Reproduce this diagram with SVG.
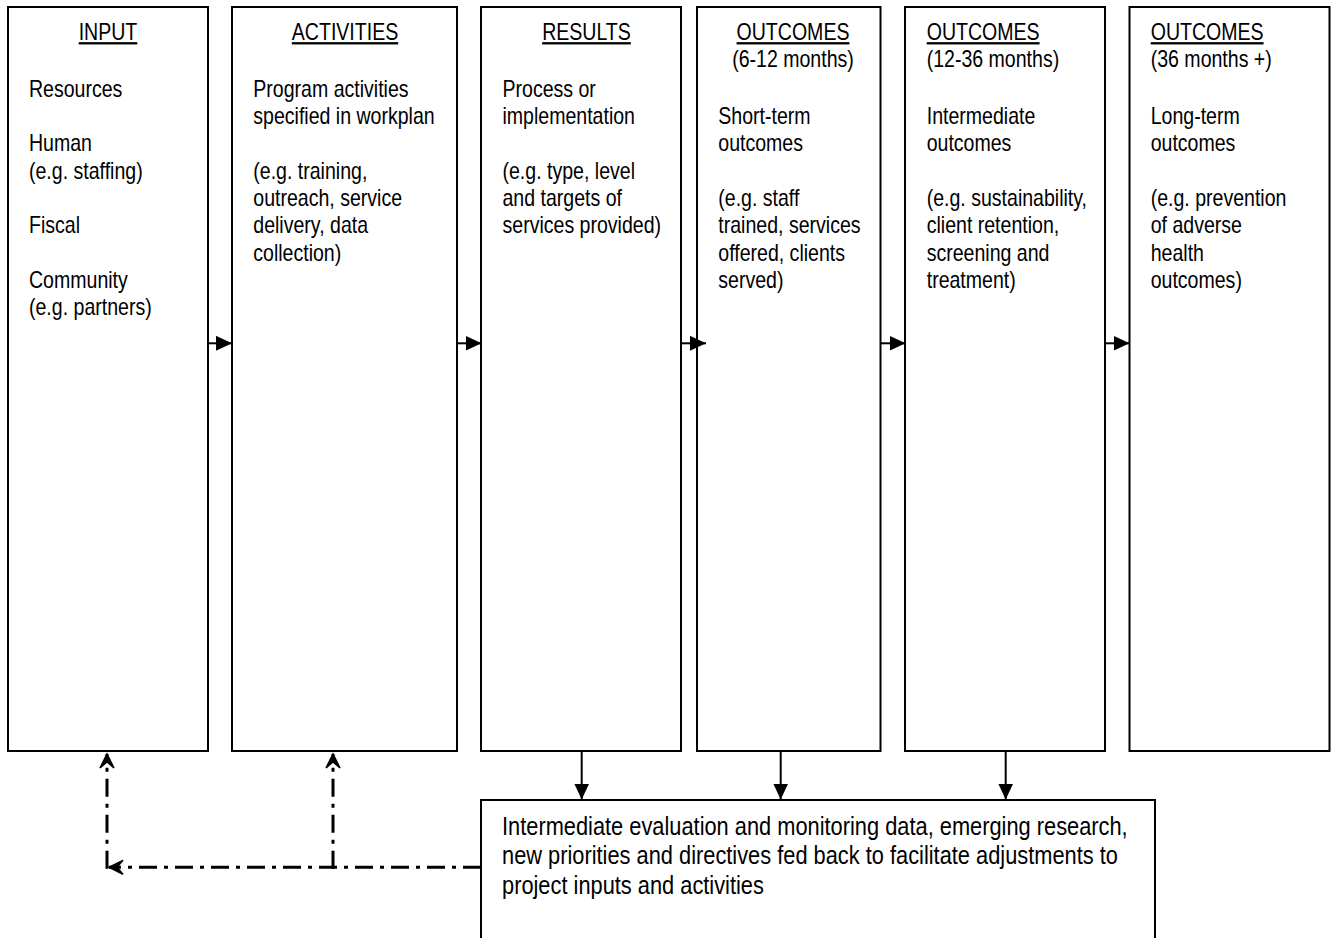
<svg xmlns="http://www.w3.org/2000/svg" width="1333" height="938" viewBox="0 0 1333 938">
<style>
.box{fill:#fff;stroke:#000;stroke-width:2}
.t{font-family:"Liberation Sans",Arial,sans-serif;font-size:23px;fill:#000}
.b{font-family:"Liberation Sans",Arial,sans-serif;font-size:25px;fill:#000}
.u{text-decoration:underline}
.solid{stroke:#000;stroke-width:2;fill:none}
.dash{stroke:#000;stroke-width:3;fill:none;stroke-dasharray:18 7 4 7}
</style>
<defs>
<marker id="tri" markerUnits="userSpaceOnUse" viewBox="0 0 16 15" refX="16" refY="7.5" markerWidth="16" markerHeight="15" orient="auto">
<path d="M0,0 L16,7.5 L0,15 z" fill="#000"/>
</marker>
<marker id="stealth" markerUnits="userSpaceOnUse" viewBox="-2 -2 18 18" refX="14" refY="7" markerWidth="18" markerHeight="18" orient="auto">
<path d="M0,0 L14,7 L0,14 L6,7 z" fill="#000" stroke="#000" stroke-width="1.5" stroke-linejoin="miter"/>
</marker>
</defs>
<rect width="1333" height="938" fill="#fff"/>

<g id="input">
<rect class="box" x="8" y="7" width="200" height="744"/>
<text class="t" transform="translate(108,0) scale(0.85,1)" text-anchor="middle"><tspan class="u" x="0" y="40">INPUT</tspan></text>
<text class="t" transform="translate(29,0) scale(0.85,1)">
<tspan x="0" y="96.7">Resources</tspan>
<tspan x="0" y="151.3">Human</tspan>
<tspan x="0" y="178.6">(e.g. staffing)</tspan>
<tspan x="0" y="233.3">Fiscal</tspan>
<tspan x="0" y="288">Community</tspan>
<tspan x="0" y="315.3">(e.g. partners)</tspan>
</text>
</g>

<g id="activities">
<rect class="box" x="232" y="7" width="225" height="744"/>
<text class="t" transform="translate(345,0) scale(0.85,1)" text-anchor="middle"><tspan class="u" x="0" y="40">ACTIVITIES</tspan></text>
<text class="t" transform="translate(253.3,0) scale(0.85,1)">
<tspan x="0" y="96.7">Program activities</tspan>
<tspan x="0" y="124">specified in workplan</tspan>
<tspan x="0" y="178.6">(e.g. training,</tspan>
<tspan x="0" y="206">outreach, service</tspan>
<tspan x="0" y="233.3">delivery, data</tspan>
<tspan x="0" y="260.6">collection)</tspan>
</text>
</g>

<g id="results">
<rect class="box" x="481" y="7" width="200" height="744"/>
<text class="t" transform="translate(586.5,0) scale(0.85,1)" text-anchor="middle"><tspan class="u" x="0" y="40">RESULTS</tspan></text>
<text class="t" transform="translate(502.5,0) scale(0.85,1)">
<tspan x="0" y="96.7">Process or</tspan>
<tspan x="0" y="124">implementation</tspan>
<tspan x="0" y="178.6">(e.g. type, level</tspan>
<tspan x="0" y="206">and targets of</tspan>
<tspan x="0" y="233.3">services provided)</tspan>
</text>
</g>

<g id="outcomes-short">
<rect class="box" x="697" y="7" width="183.5" height="744"/>
<text class="t" transform="translate(793,0) scale(0.85,1)" text-anchor="middle"><tspan class="u" x="0" y="40">OUTCOMES</tspan><tspan x="0" y="67.3">(6-12 months)</tspan></text>
<text class="t" transform="translate(718.3,0) scale(0.85,1)">
<tspan x="0" y="124">Short-term</tspan>
<tspan x="0" y="151.3">outcomes</tspan>
<tspan x="0" y="206">(e.g. staff</tspan>
<tspan x="0" y="233.3">trained, services</tspan>
<tspan x="0" y="260.6">offered, clients</tspan>
<tspan x="0" y="288">served)</tspan>
</text>
</g>

<g id="outcomes-intermediate">
<rect class="box" x="905" y="7" width="200" height="744"/>
<text class="t" transform="translate(926.7,0) scale(0.85,1)">
<tspan class="u" x="0" y="40">OUTCOMES</tspan>
<tspan x="0" y="67.3">(12-36 months)</tspan>
<tspan x="0" y="124">Intermediate</tspan>
<tspan x="0" y="151.3">outcomes</tspan>
<tspan x="0" y="206">(e.g. sustainability,</tspan>
<tspan x="0" y="233.3">client retention,</tspan>
<tspan x="0" y="260.6">screening and</tspan>
<tspan x="0" y="288">treatment)</tspan>
</text>
</g>

<g id="outcomes-long">
<rect class="box" x="1129.5" y="7" width="200" height="744"/>
<text class="t" transform="translate(1150.7,0) scale(0.85,1)">
<tspan class="u" x="0" y="40">OUTCOMES</tspan>
<tspan x="0" y="67.3">(36 months +)</tspan>
<tspan x="0" y="124">Long-term</tspan>
<tspan x="0" y="151.3">outcomes</tspan>
<tspan x="0" y="206">(e.g. prevention</tspan>
<tspan x="0" y="233.3">of adverse</tspan>
<tspan x="0" y="260.6">health</tspan>
<tspan x="0" y="288">outcomes)</tspan>
</text>
</g>

<g id="feedback">
<path class="box" d="M481,950 L481,800 L1155,800 L1155,950"/>
<text class="b" transform="translate(502,0) scale(0.873,1)">
<tspan x="0" y="835">Intermediate evaluation and monitoring data, emerging research,</tspan>
<tspan x="0" y="864.5">new priorities and directives fed back to facilitate adjustments to</tspan>
<tspan x="0" y="894">project inputs and activities</tspan>
</text>
</g>

<g id="connectors">
<line class="solid" x1="208" y1="343.3" x2="232" y2="343.3" marker-end="url(#tri)"/>
<line class="solid" x1="457" y1="343.3" x2="481.5" y2="343.3" marker-end="url(#tri)"/>
<line class="solid" x1="681" y1="343.3" x2="706" y2="343.3" marker-end="url(#tri)"/>
<line class="solid" x1="880.5" y1="343.3" x2="905.5" y2="343.3" marker-end="url(#tri)"/>
<line class="solid" x1="1105" y1="343.3" x2="1129.5" y2="343.3" marker-end="url(#tri)"/>
<line class="solid" x1="581.7" y1="751" x2="581.7" y2="799.5" marker-end="url(#tri)"/>
<line class="solid" x1="780.7" y1="751" x2="780.7" y2="799.5" marker-end="url(#tri)"/>
<line class="solid" x1="1005.7" y1="751" x2="1005.7" y2="799.5" marker-end="url(#tri)"/>
<line class="dash" x1="481" y1="867.3" x2="109" y2="867.3" marker-end="url(#stealth)"/>
<line class="dash" x1="107" y1="868.8" x2="107" y2="754" marker-end="url(#stealth)"/>
<line class="dash" x1="333" y1="868.8" x2="333" y2="754" marker-end="url(#stealth)"/>
</g>
</svg>
